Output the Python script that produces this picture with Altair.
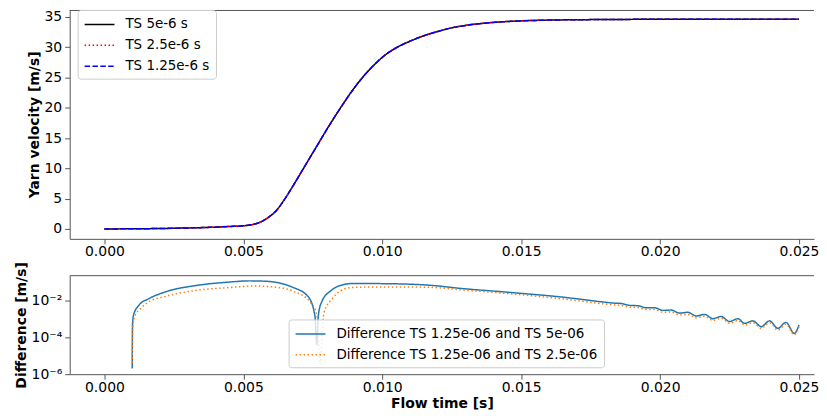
import altair as alt
import pandas as pd

# ---------------- data ----------------
time_top = [0.0000, 0.0010, 0.0020, 0.0030, 0.0040, 0.0045, 0.0050, 0.0053, 0.0056, 0.0059,
            0.0062, 0.0065, 0.0068, 0.0071, 0.0074, 0.0077, 0.0080, 0.0083, 0.0086, 0.0089,
            0.0092, 0.0095, 0.0098, 0.0101, 0.0105, 0.0110, 0.0115, 0.0120, 0.0125, 0.0130,
            0.0140, 0.0150, 0.0160, 0.0175, 0.0190, 0.0210, 0.0230, 0.0250]
v_ts5 = [0.00, 0.02, 0.07, 0.16, 0.30, 0.40, 0.52, 0.70, 1.10, 1.90,
         3.10, 5.00, 7.20, 9.50, 11.80, 14.10, 16.40, 18.60, 20.70, 22.70,
         24.50, 26.10, 27.50, 28.70, 29.90, 31.00, 31.90, 32.60, 33.20, 33.60,
         34.10, 34.35, 34.48, 34.56, 34.60, 34.62, 34.63, 34.63]
v_ts25 = [0.00, 0.02, 0.07, 0.16, 0.30, 0.40, 0.52, 0.70, 1.10, 1.90,
          3.10, 5.00, 7.20, 9.50, 11.80, 14.10, 16.40, 18.60, 20.70, 22.70,
          24.50, 26.10, 27.50, 28.70, 29.90, 31.00, 31.90, 32.60, 33.20, 33.60,
          34.10, 34.35, 34.48, 34.56, 34.60, 34.62, 34.63, 34.63]
v_ts125 = [0.00, 0.02, 0.07, 0.16, 0.30, 0.40, 0.52, 0.70, 1.10, 1.90,
           3.10, 5.00, 7.20, 9.50, 11.80, 14.10, 16.40, 18.60, 20.70, 22.70,
           24.50, 26.10, 27.50, 28.70, 29.90, 31.00, 31.90, 32.60, 33.20, 33.60,
           34.10, 34.35, 34.48, 34.56, 34.60, 34.62, 34.63, 34.63]
top_series = ["TS 5e-6 s", "TS 2.5e-6 s", "TS 1.25e-6 s"]
top_colors = ["black", "red", "blue"]
top_dashes = [[1, 0], [1.5, 2.5], [5.5, 2.4]]

time_d1 = [0.00100, 0.00101, 0.00105, 0.00125, 0.00160, 0.00220, 0.00340, 0.00450, 0.00520, 0.00580,
           0.00674, 0.00734, 0.00758, 0.00764, 0.00770, 0.00782, 0.00818, 0.00866, 0.00889, 0.01000,
           0.01164, 0.01283, 0.01462, 0.01641, 0.01800, 0.01830, 0.01860, 0.01890, 0.01920, 0.01950,
           0.01980, 0.02010, 0.02040, 0.02070, 0.02100, 0.02130, 0.02160, 0.02190, 0.02220, 0.02250,
           0.02280, 0.02304, 0.02334, 0.02364, 0.02394, 0.02424, 0.02453, 0.02483, 0.02500]
diff_1 = [2.0e-6, 4.6e-4, 1.6e-3, 5.5e-3, 1.2e-2, 2.8e-2, 6.5e-2, 9.5e-2, 1.1e-1, 1.05e-1,
          5.2e-2, 1.5e-2, 1.3e-3, 4.0e-5, 1.5e-3, 8.1e-3, 3.5e-2, 7.2e-2, 7.9e-2, 7.8e-2,
          6.5e-2, 4.3e-2, 2.6e-2, 1.5e-2, 7.8e-3, 7.0e-3, 6.6e-3, 5.2e-3, 5.0e-3, 3.9e-3,
          3.9e-3, 2.8e-3, 2.9e-3, 2.0e-3, 2.2e-3, 1.4e-3, 1.7e-3, 1.0e-3, 1.3e-3, 7.0e-4,
          1.0e-3, 5.6e-4, 7.6e-4, 3.7e-4, 7.6e-4, 3.0e-4, 6.3e-4, 1.6e-4, 4.6e-4]

time_d2 = [0.00100, 0.00102, 0.00108, 0.00130, 0.00160, 0.00220, 0.00340, 0.00450, 0.00540, 0.00620,
           0.00680, 0.00740, 0.00765, 0.00776, 0.00790, 0.00820, 0.00850, 0.00890, 0.01000, 0.01164,
           0.01283, 0.01462, 0.01641, 0.01800, 0.01830, 0.01860, 0.01890, 0.01920, 0.01950, 0.01980,
           0.02010, 0.02040, 0.02070, 0.02100, 0.02130, 0.02160, 0.02190, 0.02220, 0.02250, 0.02280,
           0.02304, 0.02334, 0.02364, 0.02394, 0.02424, 0.02453, 0.02483, 0.02500]
diff_2 = [4.0e-6, 3.0e-4, 1.2e-3, 3.5e-3, 8.1e-3, 1.6e-2, 3.5e-2, 4.8e-2, 5.8e-2, 5.0e-2,
          3.0e-2, 8.0e-3, 1.5e-3, 3.5e-6, 2.0e-3, 1.2e-2, 3.2e-2, 4.8e-2, 5.2e-2, 5.0e-2,
          3.6e-2, 2.2e-2, 1.2e-2, 6.2e-3, 5.6e-3, 5.2e-3, 4.2e-3, 4.0e-3, 3.1e-3, 3.1e-3,
          2.2e-3, 2.3e-3, 1.6e-3, 1.7e-3, 1.1e-3, 1.35e-3, 8.0e-4, 1.05e-3, 5.6e-4, 8.0e-4,
          4.5e-4, 6.0e-4, 3.0e-4, 6.0e-4, 2.4e-4, 5.0e-4, 1.35e-4, 3.7e-4]
bottom_series = ["Difference TS 1.25e-06 and TS 5e-06", "Difference TS 1.25e-06 and TS 2.5e-06"]
bottom_colors = ["#1f77b4", "#ff7f0e"]
bottom_dashes = [[1, 0], [1.5, 2.5]]

# ---------------- tables ----------------
top_frames = []
for name, vals in zip(top_series, [v_ts5, v_ts25, v_ts125]):
    top_frames.append(pd.DataFrame({"t": time_top, "v": vals, "series": name}))
bot_frames = [
    pd.DataFrame({"t": time_d1, "d": diff_1, "series": bottom_series[0]}),
    pd.DataFrame({"t": time_d2, "d": diff_2, "series": bottom_series[1]}),
]

FONT = "DejaVu Sans"
W = 748
XDOM = [-0.00125, 0.02554]
xticks = [0.0, 0.005, 0.010, 0.015, 0.020, 0.025]

legend_common = dict(
    orient="none", title=None, symbolType="M-1,0H3", symbolSize=225, symbolStrokeWidth=1.5,
    labelFont=FONT, labelFontSize=13.5, labelColor="black", labelOffset=25, padding=6,
    rowPadding=6, labelLimit=500, fillColor="rgba(255,255,255,0.8)", strokeColor="#cccccc",
    cornerRadius=3,
)

# ---------------- top panel ----------------
top_color = alt.Color("series:N", scale=alt.Scale(domain=top_series, range=top_colors),
                      legend=alt.Legend(legendX=8, legendY=0, **legend_common))
top_dash = alt.StrokeDash("series:N", scale=alt.Scale(domain=top_series, range=top_dashes),
                          legend=alt.Legend(legendX=8, legendY=0, **legend_common))
top_layers = []
for df in top_frames:
    top_layers.append(
        alt.Chart(df).mark_line(strokeWidth=1.5, interpolate="monotone").encode(
            x=alt.X("t:Q", scale=alt.Scale(domain=XDOM, nice=False, zero=False),
                    axis=alt.Axis(values=xticks, format=".3f", title=None, labelPadding=1)),
            y=alt.Y("v:Q", scale=alt.Scale(domain=[-1.64, 36.15], nice=False, zero=False),
                    axis=alt.Axis(values=[0, 5, 10, 15, 20, 25, 30, 35], title="Yarn velocity [m/s]")),
            color=top_color,
            strokeDash=top_dash,
        )
    )
top_frame = alt.Chart(alt.Data(values=[{}])).mark_rule(color="#555", strokeWidth=1).encode(
    x=alt.value(0), x2=alt.value(W), y=alt.value(0.5))
top = alt.layer(*top_layers, top_frame).properties(width=W, height=230)

# ---------------- bottom panel ----------------
bot_color = alt.Color("series:N", scale=alt.Scale(domain=bottom_series, range=bottom_colors),
                      legend=alt.Legend(legendX=220, legendY=44, **legend_common))
bot_dash = alt.StrokeDash("series:N", scale=alt.Scale(domain=bottom_series, range=bottom_dashes),
                          legend=alt.Legend(legendX=220, legendY=44, **legend_common))
bot_layers = []
for df in bot_frames:
    bot_layers.append(
        alt.Chart(df).mark_line(strokeWidth=1.5, interpolate="monotone", clip=True).encode(
            x=alt.X("t:Q", scale=alt.Scale(domain=XDOM, nice=False, zero=False),
                    axis=alt.Axis(values=xticks, format=".3f", title="Flow time [s]",
                                  labelPadding=1, titlePadding=2)),
            y=alt.Y("d:Q", scale=alt.Scale(type="log", domain=[1e-6, 0.21], nice=False),
                    axis=alt.Axis(values=[1e-6, 1e-4, 1e-2], title="Difference [m/s]",
                                  labelExpr="datum.value < 5e-6 ? '10⁻⁶' : datum.value < 5e-4 ? '10⁻⁴' : '10⁻²'")),
            color=bot_color,
            strokeDash=bot_dash,
        )
    )
bot_frame = alt.Chart(alt.Data(values=[{}])).mark_rule(color="#555", strokeWidth=1).encode(
    x=alt.value(0), x2=alt.value(W), y=alt.value(0))
bottom = alt.layer(*bot_layers, bot_frame).properties(width=W, height=99)

chart = alt.vconcat(top, bottom, spacing=2).resolve_scale(
    color="independent", strokeDash="independent", x="independent", y="independent"
).properties(
    padding={"left": 6, "top": 0, "right": 0, "bottom": 0}
).configure_view(stroke=None).configure_axis(
    labelFont=FONT, labelFontSize=14, labelColor="black",
    titleFont=FONT, titleFontSize=14, titleFontWeight="bold", titleColor="black",
    domainColor="#555", tickColor="#555", tickSize=5, labelPadding=3, titlePadding=3,
    grid=False, domainWidth=1, tickWidth=1,
)

chart.save("out.html", embed_options={"renderer": "svg", "actions": False})
